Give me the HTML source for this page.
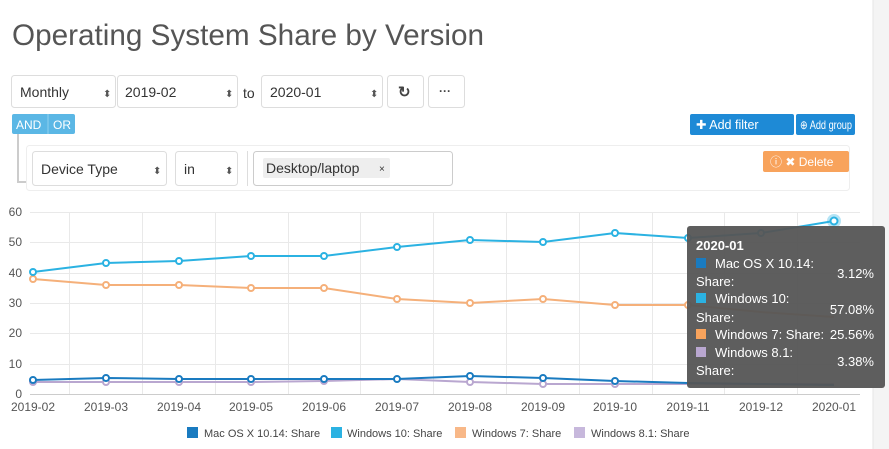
<!DOCTYPE html>
<html><head><meta charset="utf-8"><style>
body{margin:0;background:#fff;}
svg{display:block;font-family:"Liberation Sans",sans-serif;}
</style></head><body>
<svg width="889" height="449" viewBox="0 0 889 449" xmlns="http://www.w3.org/2000/svg">
<rect width="889" height="449" fill="#fff"/>
<rect x="873" y="0" width="16" height="449" fill="#f4f4f4"/>
<line x1="873" y1="0" x2="873" y2="449" stroke="#e6e6e6"/>
<text x="12" y="45" font-size="30" fill="#555" textLength="472" lengthAdjust="spacingAndGlyphs">Operating System Share by Version</text>

<g font-size="14" fill="#333">
<rect x="11.5" y="75.5" width="104" height="32" rx="3" fill="#fff" stroke="#ddd"/>
<text x="20" y="97">Monthly</text><text x="103" y="97" font-size="10" fill="#555">⬍</text>
<rect x="117.5" y="75.5" width="120" height="32" rx="3" fill="#fff" stroke="#ddd"/>
<text x="125" y="97">2019-02</text><text x="225" y="97" font-size="10" fill="#555">⬍</text>
<text x="243" y="98">to</text>
<rect x="261.5" y="75.5" width="121" height="32" rx="3" fill="#fff" stroke="#ddd"/>
<text x="270" y="97">2020-01</text><text x="370" y="97" font-size="10" fill="#555">⬍</text>
<rect x="387.5" y="75.5" width="36" height="32" rx="3" fill="#fff" stroke="#ddd"/>
<text x="398" y="97" font-size="15" font-weight="bold" fill="#444">↻</text>
<rect x="428.5" y="75.5" width="36" height="32" rx="3" fill="#fff" stroke="#ddd"/>
<text x="439" y="95" font-size="12" font-weight="bold" fill="#444">···</text>
</g>
<rect x="12" y="114" width="63" height="20" rx="2" fill="#5bb7e5"/>
<line x1="48" y1="114" x2="48" y2="134" stroke="#8fd0ef"/>
<text x="16" y="129" font-size="12" fill="#fff">AND</text><text x="53" y="129" font-size="12" fill="#fff">OR</text>
<path d="M18 134 V182 H28" fill="none" stroke="#ccc" stroke-width="2"/>

<rect x="690" y="114" width="104" height="21" rx="2" fill="#1e8ad6"/>
<text x="696" y="129" font-size="12.5" fill="#fff">✚ Add filter</text>
<rect x="796" y="114" width="59" height="21" rx="2" fill="#1e8ad6"/>
<text x="800" y="129" font-size="12" fill="#fff" textLength="52" lengthAdjust="spacingAndGlyphs">⊕ Add group</text>

<rect x="26.5" y="145.5" width="823" height="45" rx="3" fill="#fff" stroke="#eee"/>
<rect x="32.5" y="151.5" width="134" height="34" rx="3" fill="#fff" stroke="#ddd"/>
<text x="41" y="174" font-size="14" fill="#333">Device Type</text><text x="153" y="174" font-size="10" fill="#555">⬍</text>
<rect x="175.5" y="151.5" width="62" height="34" rx="3" fill="#fff" stroke="#ddd"/>
<text x="184" y="174" font-size="14" fill="#333">in</text><text x="225" y="174" font-size="10" fill="#555">⬍</text>
<line x1="247.5" y1="151" x2="247.5" y2="186" stroke="#ddd"/>
<rect x="253.5" y="151.5" width="199" height="34" rx="3" fill="#fff" stroke="#ccc"/>
<rect x="263" y="158" width="127" height="20" rx="2" fill="#eee"/>
<text x="266" y="173" font-size="14" fill="#333">Desktop/laptop</text>
<text x="379" y="172" font-size="10" fill="#333">×</text>
<rect x="763" y="151" width="86" height="21" rx="2" fill="#f8a35c"/>
<text x="770" y="166" font-size="12" fill="#fff">ⓘ  ✖ Delete</text>

<g stroke="#e9e9e9" stroke-width="1">
<line x1="30" y1="212.5" x2="860" y2="212.5"/><line x1="30" y1="242.5" x2="860" y2="242.5"/>
<line x1="30" y1="273.5" x2="860" y2="273.5"/><line x1="30" y1="303.5" x2="860" y2="303.5"/>
<line x1="30" y1="333.5" x2="860" y2="333.5"/><line x1="30" y1="364.5" x2="860" y2="364.5"/>
<line x1="69.5" y1="212" x2="69.5" y2="394"/><line x1="142.5" y1="212" x2="142.5" y2="394"/>
<line x1="215.5" y1="212" x2="215.5" y2="394"/><line x1="288.5" y1="212" x2="288.5" y2="394"/>
<line x1="360.5" y1="212" x2="360.5" y2="394"/><line x1="433.5" y1="212" x2="433.5" y2="394"/>
<line x1="506.5" y1="212" x2="506.5" y2="394"/><line x1="579.5" y1="212" x2="579.5" y2="394"/>
<line x1="652.5" y1="212" x2="652.5" y2="394"/><line x1="724.5" y1="212" x2="724.5" y2="394"/>
<line x1="797.5" y1="212" x2="797.5" y2="394"/>
</g>
<line x1="30" y1="394.5" x2="860" y2="394.5" stroke="#ccc"/>
<g font-size="12" fill="#555" text-anchor="end">
<text x="22" y="216">60</text><text x="22" y="246">50</text><text x="22" y="277">40</text>
<text x="22" y="307">30</text><text x="22" y="337">20</text><text x="22" y="368">10</text><text x="22" y="398">0</text>
</g>
<g font-size="12" fill="#555" text-anchor="middle">
<text x="33" y="411">2019-02</text><text x="106" y="411">2019-03</text><text x="179" y="411">2019-04</text>
<text x="251" y="411">2019-05</text><text x="324" y="411">2019-06</text><text x="397" y="411">2019-07</text>
<text x="470" y="411">2019-08</text><text x="543" y="411">2019-09</text><text x="615" y="411">2019-10</text>
<text x="688" y="411">2019-11</text><text x="761" y="411">2019-12</text><text x="834" y="411">2020-01</text>
</g>

<g fill="none" stroke-width="2">
<polyline stroke="#b9a7d0" points="33,382 106,382 179,382 251,382 324,381 397,379 470,382 543,384 615,384 688,384 761,384 834,384"/>
<polyline stroke="#1a7bc0" points="33,380 106,378 179,379 251,379 324,379 397,379 470,376 543,378 615,381 688,383 761,384 834,385"/>
<polyline stroke="#f5b07a" points="33,279 106,285 179,285 251,288 324,288 397,299 470,303 543,299 615,305 688,305 761,312 834,317"/>
<polyline stroke="#2bb2e2" points="33,272 106,263 179,261 251,256 324,256 397,247 470,240 543,242 615,233 688,238 761,233 834,221"/>
</g>
<g fill="#fff" stroke-width="2">
<g stroke="#b9a7d0"><circle cx="33" cy="382" r="3"/><circle cx="106" cy="382" r="3"/><circle cx="179" cy="382" r="3"/><circle cx="251" cy="382" r="3"/><circle cx="324" cy="381" r="3"/><circle cx="470" cy="382" r="3"/><circle cx="543" cy="384" r="3"/><circle cx="615" cy="384" r="3"/></g>
<g stroke="#1a7bc0"><circle cx="33" cy="380" r="3"/><circle cx="106" cy="378" r="3"/><circle cx="179" cy="379" r="3"/><circle cx="251" cy="379" r="3"/><circle cx="324" cy="379" r="3"/><circle cx="397" cy="379" r="3"/><circle cx="470" cy="376" r="3"/><circle cx="543" cy="378" r="3"/><circle cx="615" cy="381" r="3"/></g>
<g stroke="#f5b07a"><circle cx="33" cy="279" r="3"/><circle cx="106" cy="285" r="3"/><circle cx="179" cy="285" r="3"/><circle cx="251" cy="288" r="3"/><circle cx="324" cy="288" r="3"/><circle cx="397" cy="299" r="3"/><circle cx="470" cy="303" r="3"/><circle cx="543" cy="299" r="3"/><circle cx="615" cy="305" r="3"/><circle cx="688" cy="305" r="3"/></g>
<g stroke="#2bb2e2"><circle cx="33" cy="272" r="3"/><circle cx="106" cy="263" r="3"/><circle cx="179" cy="261" r="3"/><circle cx="251" cy="256" r="3"/><circle cx="324" cy="256" r="3"/><circle cx="397" cy="247" r="3"/><circle cx="470" cy="240" r="3"/><circle cx="543" cy="242" r="3"/><circle cx="615" cy="233" r="3"/><circle cx="688" cy="238" r="3"/><circle cx="761" cy="233" r="3"/></g>
</g>
<circle cx="834" cy="221" r="7" fill="#2bb2e2" opacity="0.35"/>
<circle cx="834" cy="221" r="3.5" fill="#fff" stroke="#2bb2e2" stroke-width="2"/>

<rect x="687" y="226" width="198" height="162" rx="3" fill="#555" opacity="0.95"/>
<g font-size="13" fill="#fff">
<text x="696" y="250" font-weight="bold">2020-01</text>
<rect x="696" y="258" width="10" height="10" fill="#1a7bc0"/>
<text x="715" y="268">Mac OS X 10.14:</text><text x="696" y="286">Share:</text><text x="874" y="278" text-anchor="end">3.12%</text>
<rect x="696" y="293" width="10" height="10" fill="#2bb2e2"/>
<text x="715" y="303">Windows 10:</text><text x="696" y="322">Share:</text><text x="874" y="314" text-anchor="end">57.08%</text>
<rect x="696" y="329" width="10" height="10" fill="#f8a35c"/>
<text x="715" y="339">Windows 7: Share:</text><text x="874" y="339" text-anchor="end">25.56%</text>
<rect x="696" y="347" width="10" height="10" fill="#b9a7d0"/>
<text x="715" y="357">Windows 8.1:</text><text x="696" y="375">Share:</text><text x="874" y="366" text-anchor="end">3.38%</text>
</g>

<g font-size="11" fill="#444">
<rect x="187" y="427" width="11" height="11" fill="#1a7bc0"/><text x="204" y="437">Mac OS X 10.14: Share</text>
<rect x="331" y="427" width="11" height="11" fill="#2bb2e2"/><text x="347" y="437">Windows 10: Share</text>
<rect x="455" y="427" width="11" height="11" fill="#f8b888"/><text x="472" y="437">Windows 7: Share</text>
<rect x="574" y="427" width="11" height="11" fill="#c7b8dc"/><text x="591" y="437">Windows 8.1: Share</text>
</g>
</svg>
</body></html>
